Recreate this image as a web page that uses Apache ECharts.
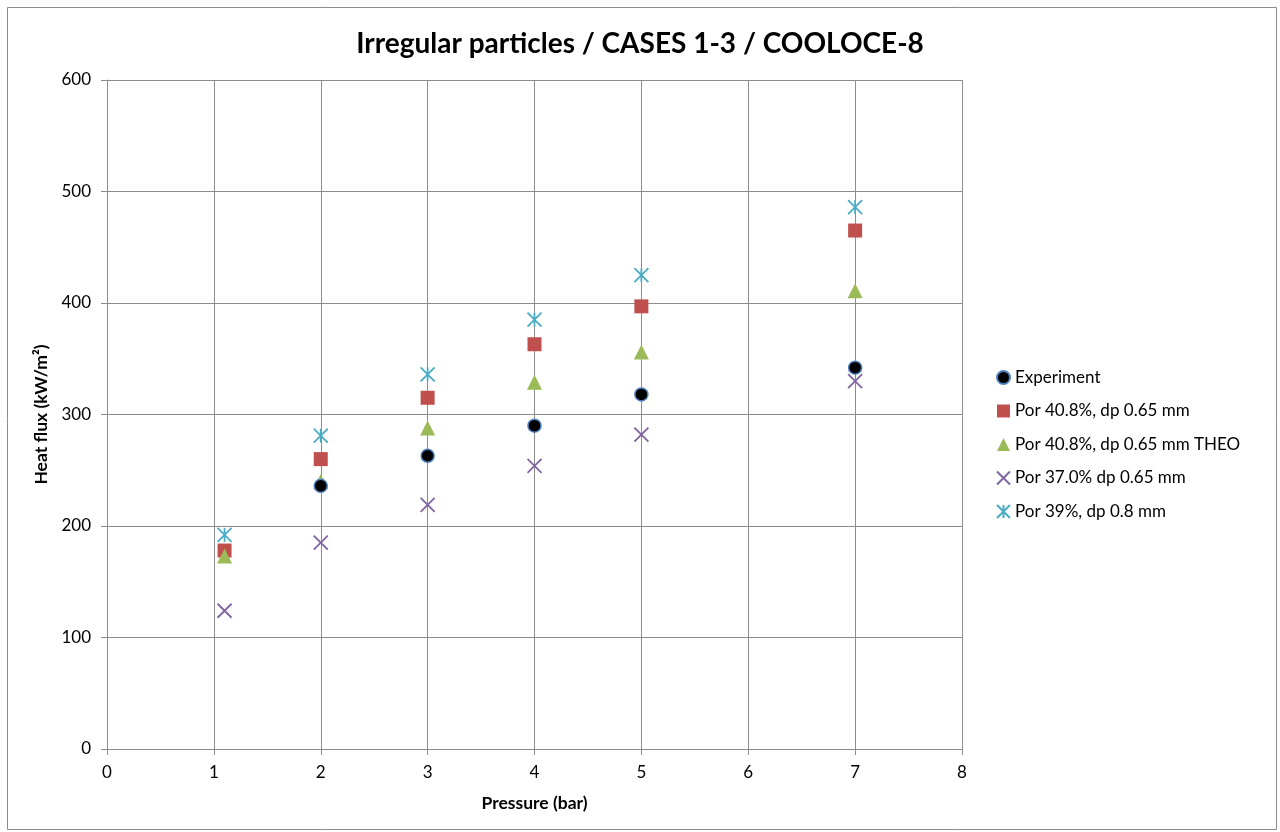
<!DOCTYPE html>
<html><head><meta charset="utf-8">
<script src="https://cdn.jsdelivr.net/npm/echarts@6/dist/echarts.min.js"></script>
<style>html,body{margin:0;padding:0;background:#fff}#c{width:1280px;height:832px}</style>
</head><body><div id="c"></div>
<script>
const xTicks = [0,1,2,3,4,5,6,7,8];
const seriesNames = ["Experiment","Por 40.8%, dp 0.65 mm","Por 40.8%, dp 0.65 mm THEO","Por 37.0% dp 0.65 mm","Por 39%, dp 0.8 mm"];
const pressure = [1.1,2,3,4,5,7];
const experiment = [null,236,263,290,318,342];
const por408 = [178,260,315,363,397,465];
const por408theo = [173,240,288,329,356,411];
const por370 = [124,185,219,254,282,330];
const por39 = [192,281,336,385,425,486];

const pair = (xs, ys) => xs.map((x,i)=> ys[i]==null ? null : [x, ys[i]]).filter(p=>p);
const F = 'Lato, "Open Sans", sans-serif';
const chart = echarts.init(document.getElementById('c'));
chart.setOption({
  animation:false,
  backgroundColor:'#fff',
  title:{text:'Irregular particles / CASES 1-3 / COOLOCE-8',left:'center',top:25,
    textStyle:{fontFamily:F,fontSize:28,fontWeight:'bold',color:'#000'}},
  graphic:[{type:'rect',shape:{x:7.5,y:7.5,width:1269,height:822},style:{fill:'none',stroke:'#8c8c8c',lineWidth:1},silent:true,z:-1}],
  grid:{left:107,right:318,top:80,bottom:83},
  legend:{orient:'vertical',left:991,top:364,itemGap:16.5,itemWidth:13,itemHeight:13,
    textStyle:{fontFamily:F,fontSize:17,lineHeight:17,color:'#000'},data:seriesNames},
  xAxis:{type:'value',min:0,max:8,interval:1,name:'Pressure (bar)',nameLocation:'middle',nameGap:45,
    nameTextStyle:{fontFamily:F,fontSize:17.5,fontWeight:'bold',color:'#000'},
    axisLine:{lineStyle:{color:'#8c8c8c'}},axisTick:{show:true,length:6,lineStyle:{color:'#8c8c8c'}},
    axisLabel:{fontFamily:F,fontSize:17,color:'#000',margin:15,formatter:v=>xTicks.includes(v)?String(v):''},
    splitLine:{lineStyle:{color:'#8c8c8c'}}},
  yAxis:{type:'value',min:0,max:600,interval:100,name:'Heat flux (kW/m²)',nameLocation:'middle',nameGap:56,
    nameTextStyle:{fontFamily:F,fontSize:17.5,fontWeight:'bold',color:'#000'},
    axisLine:{show:true,lineStyle:{color:'#8c8c8c'}},axisTick:{show:true,length:6,lineStyle:{color:'#8c8c8c'}},
    axisLabel:{fontFamily:F,fontSize:17,color:'#000',margin:16},
    splitLine:{lineStyle:{color:'#8c8c8c'}}},
  series:[
    {name:seriesNames[0],type:'scatter',symbol:'circle',symbolSize:13,data:pair(pressure,experiment),
      itemStyle:{color:'#000',borderColor:'#4f81bd',borderWidth:1.5,opacity:1},z:5},
    {name:seriesNames[1],type:'scatter',symbol:'rect',symbolSize:14,data:pair(pressure,por408),
      itemStyle:{color:'#c0504d',opacity:1},z:3},
    {name:seriesNames[2],type:'scatter',symbol:'triangle',symbolSize:15,data:pair(pressure,por408theo),
      itemStyle:{color:'#9bbb59',opacity:1},z:4},
    {name:seriesNames[3],type:'scatter',symbol:'path://M0,0L10,10M10,0L0,10',symbolSize:14,data:pair(pressure,por370),
      itemStyle:{color:'rgba(0,0,0,0)',borderColor:'#8064a2',borderWidth:1.8,opacity:1},z:2},
    {name:seriesNames[4],type:'scatter',symbol:'path://M0,0L10,10M10,0L0,10M5,0L5,10',symbolSize:14,data:pair(pressure,por39),
      itemStyle:{color:'rgba(0,0,0,0)',borderColor:'#4bacc6',borderWidth:1.8,opacity:1},z:2}
  ]
});
</script></body></html>
